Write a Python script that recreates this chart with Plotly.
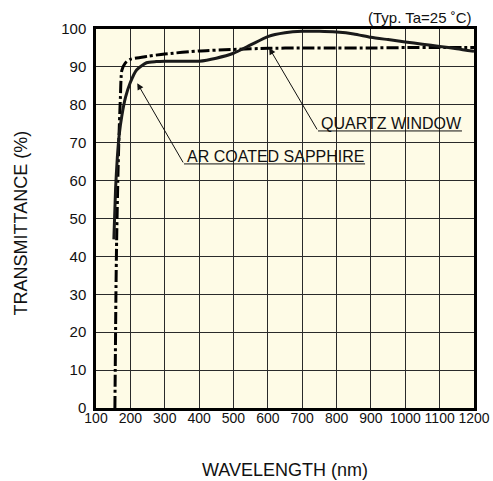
import plotly.graph_objects as go

# Data
sapphire_wl = [152, 157, 162, 168, 175, 186, 199, 218, 247, 275, 300, 350, 400, 450, 500,
               550, 600, 650, 700, 750, 800, 850, 900, 950, 1000, 1050, 1100, 1150, 1200]
sapphire_t = [44.5, 58, 66, 72.5, 77, 82, 85.7, 89.2, 91.1, 91.4, 91.5, 91.5, 91.5, 92.3, 93.6,
              95.8, 98.0, 99.0, 99.4, 99.4, 99.2, 98.7, 97.8, 97.2, 96.6, 96.0, 95.4, 94.8, 94.1]

quartz_wl = [155, 156, 158, 160, 164, 167, 171, 175, 185, 200, 250, 300, 400, 500, 600, 700,
             800, 900, 1000, 1100, 1200]
quartz_t = [0, 10, 30, 44, 62, 72, 82, 89, 91, 92, 92.8, 93.4, 94.2, 94.6, 94.9, 95.0,
            95.0, 95.0, 95.1, 95.1, 95.1]

x_ticks = [100, 200, 300, 400, 500, 600, 700, 800, 900, 1000, 1100, 1200]
y_ticks = [0, 10, 20, 30, 40, 50, 60, 70, 80, 90, 100]

FONT = "Liberation Sans, Arial, sans-serif"

fig = go.Figure()
fig.add_trace(go.Scatter(x=quartz_wl, y=quartz_t, mode="lines",
                         line=dict(color="black", width=3, dash="12px,3px,3px,3px",
                                   shape="spline", smoothing=0.6),
                         showlegend=False, hoverinfo="skip"))
fig.add_trace(go.Scatter(x=sapphire_wl, y=sapphire_t, mode="lines",
                         line=dict(color="#1a1a1a", width=3, shape="spline", smoothing=0.6),
                         showlegend=False, hoverinfo="skip"))

axis_common = dict(showgrid=True, gridcolor="#2a2a2a", gridwidth=1.3,
                   showline=True, linecolor="black", linewidth=2.5, mirror=True,
                   zeroline=False, automargin=False)

fig.update_xaxes(range=[100, 1200], tickvals=x_ticks, ticktext=[str(v) for v in x_ticks],
                 ticks="", tickangle=0, ticklabelstandoff=-5,
                 tickfont=dict(family=FONT, size=14, color="#111"), **axis_common)
fig.update_yaxes(range=[0, 100], tickvals=y_ticks, ticktext=[str(v) for v in y_ticks],
                 ticks="outside", ticklen=4, tickcolor="rgba(0,0,0,0)",
                 tickfont=dict(family=FONT, size=15, color="#111"), **axis_common)

annotations = [
    # leader arrows
    dict(x=220, y=85.7, ax=356, ay=64.4, xref="x", yref="y", axref="x", ayref="y",
         text="", showarrow=True, arrowhead=2, arrowsize=1.3, arrowwidth=1, arrowcolor="#111"),
    dict(x=604, y=95.0, ax=746, ay=73.1, xref="x", yref="y", axref="x", ayref="y",
         text="", showarrow=True, arrowhead=2, arrowsize=1.3, arrowwidth=1, arrowcolor="#111"),
    # labels
    dict(x=359, y=66.4, xref="x", yref="y", text="AR COATED SAPPHIRE", showarrow=False,
         xanchor="left", yanchor="middle", font=dict(family=FONT, size=16, color="#111")),
    dict(x=749, y=75.1, xref="x", yref="y", text="QUARTZ WINDOW", showarrow=False,
         xanchor="left", yanchor="middle", font=dict(family=FONT, size=16, color="#111")),
    # condition note
    dict(x=1, y=1, xref="paper", yref="paper", text="(Typ. Ta=25 ˚C)", showarrow=False,
         xanchor="right", yanchor="middle", xshift=0, yshift=12,
         font=dict(family=FONT, size=15, color="#111")),
    # axis titles
    dict(x=0, y=0.5, xref="paper", yref="paper", text="TRANSMITTANCE (%)", showarrow=False,
         textangle=-90, xanchor="center", yanchor="middle", xshift=-76, yshift=-5,
         font=dict(family=FONT, size=18, color="#111")),
    dict(x=0.5, y=0, xref="paper", yref="paper", text="WAVELENGTH (nm)", showarrow=False,
         xanchor="center", yanchor="middle", yshift=-62,
         font=dict(family=FONT, size=18, color="#111")),
]

shapes = [
    dict(type="line", xref="x", yref="y", x0=356, x1=883, y0=64.4, y1=64.4,
         line=dict(color="#111", width=1)),
    dict(type="line", xref="x", yref="y", x0=746, x1=1165, y0=73.1, y1=73.1,
         line=dict(color="#111", width=1)),
]

fig.update_layout(width=493, height=481, margin=dict(l=96, r=19, t=29, b=73),
                  paper_bgcolor="white", plot_bgcolor="#FEFBE6",
                  annotations=annotations, shapes=shapes,
                  font=dict(family=FONT))

fig.write_html("out.html", config={"displayModeBar": False},
               post_script="document.body.style.margin='0';"
                           "document.body.style.overflow='hidden';")
